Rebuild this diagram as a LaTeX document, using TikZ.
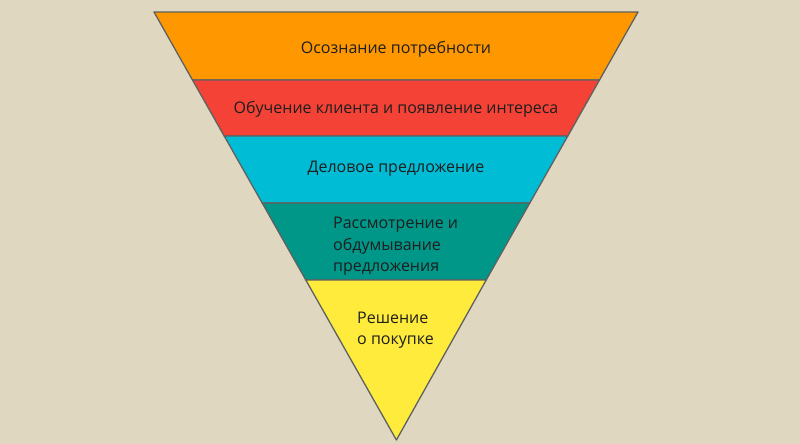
\documentclass[tikz,border=0pt]{standalone}
\usepackage{fontspec}
\setmainfont{Open Sans}
\begin{document}
\begin{tikzpicture}[x=1pt,y=-1pt,
  band/.style={draw=bordergray,line width=1.3pt,line join=round},
  lbl/.style={text=textdark,font=\fontsize{16}{21.5}\selectfont,inner sep=0pt},
  lbll/.style={lbl,align=left}]
\definecolor{bg}{HTML}{E0D7C1}
\definecolor{bordergray}{HTML}{5F6160}
\definecolor{textdark}{HTML}{1E1E1E}
\definecolor{cOrange}{HTML}{FF9800}
\definecolor{cRed}{HTML}{F44336}
\definecolor{cCyan}{HTML}{00BCD4}
\definecolor{cTeal}{HTML}{009688}
\definecolor{cYellow}{HTML}{FFEB3B}
\fill[bg] (0,0) rectangle (800,444);
\useasboundingbox (0,0) rectangle (800,444);
\filldraw[band,fill=cOrange] (154,12) -- (638,12) -- (599.5,80) -- (192.5,80) -- cycle;
\filldraw[band,fill=cRed] (192.5,80) -- (599.5,80) -- (567.8,136) -- (224.2,136) -- cycle;
\filldraw[band,fill=cCyan] (224.2,136) -- (567.8,136) -- (529.8,203) -- (262.2,203) -- cycle;
\filldraw[band,fill=cTeal] (262.2,203) -- (529.8,203) -- (486.2,280) -- (305.8,280) -- cycle;
\filldraw[band,fill=cYellow] (305.8,280) -- (486.2,280) -- (396.4,440) -- cycle;
\node[lbl] (t1) at (396,49) {Осознание потребности};
\node[lbl] (t2) at (396,109.5) {Обучение клиента и появление интереса};
\node[lbl] (t3) at (396,168.5) {Деловое предложение};
\node[lbll,anchor=west] (t4) at (333,246.5) {Рассмотрение и\\обдумывание\\предложения};
\node[lbll,anchor=west,font=\fontsize{16}{20.5}\selectfont] (t5) at (357,330) {Решение\\о покупке};
\end{tikzpicture}
\end{document}
